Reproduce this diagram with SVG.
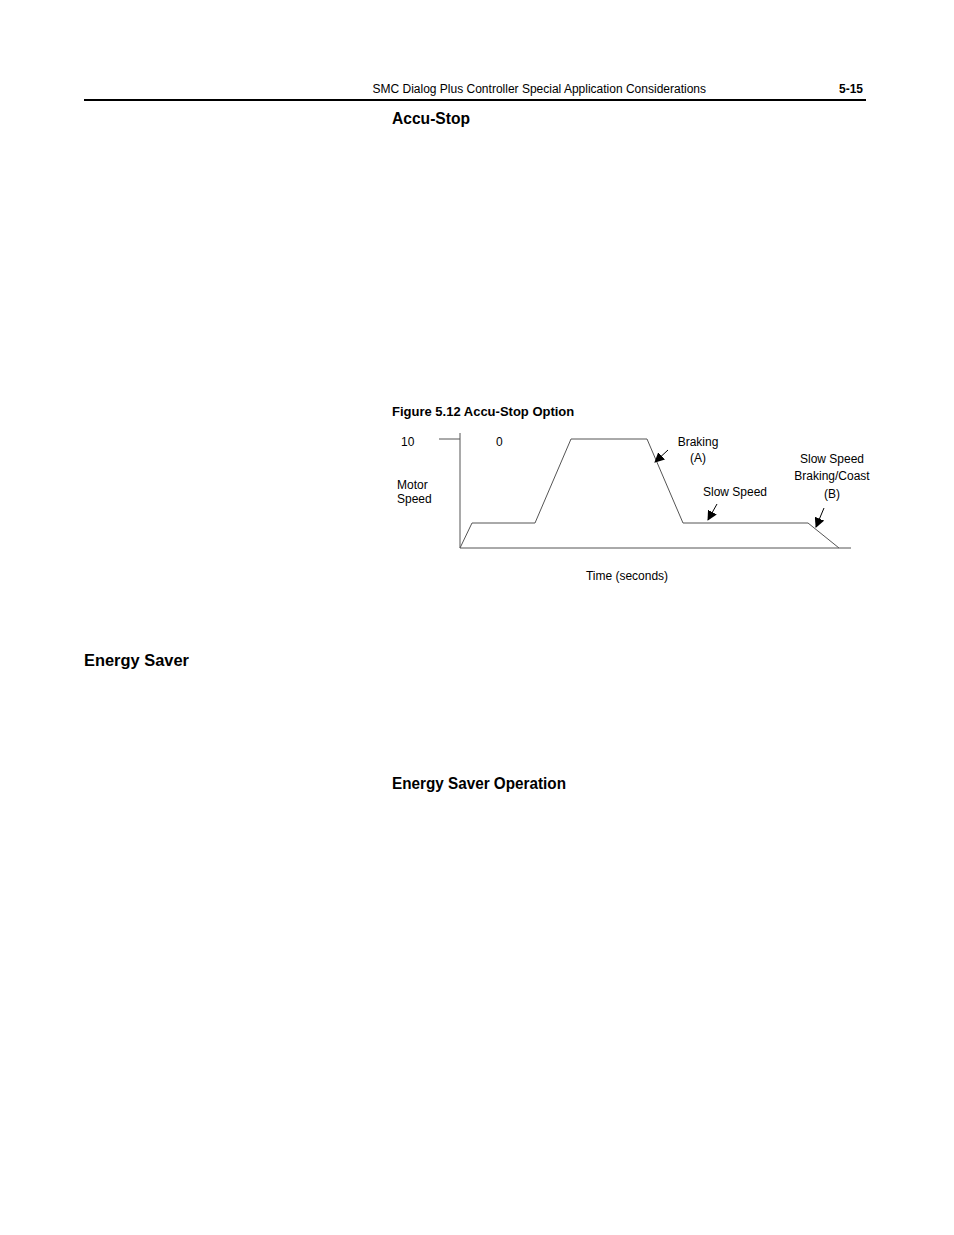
<svg xmlns="http://www.w3.org/2000/svg" width="954" height="1235" viewBox="0 0 954 1235">
<style>
text{font-family:"Liberation Sans Narrow","Liberation Sans",Arial,sans-serif;fill:#000}
.s{font-size:12px}
.h{font-size:17px;font-weight:bold}
.f{font-size:13px;font-weight:bold}
.l{fill:none;stroke:#000;stroke-width:1}
.g{fill:none;stroke:#555;stroke-width:1}
</style>
<defs><marker id="a" viewBox="0 0 10 10" refX="9" refY="5" markerWidth="10" markerHeight="10" markerUnits="userSpaceOnUse" orient="auto"><path d="M0,0L10,5L0,10z"/></marker></defs>
<rect width="954" height="1235" fill="#fff"/>
<text class="s" x="706" y="93" text-anchor="end">SMC Dialog Plus Controller Special Application Considerations</text>
<text class="s" x="863" y="93" text-anchor="end" font-weight="bold">5-15</text>
<line x1="84" y1="100" x2="866" y2="100" stroke="#000" stroke-width="2"/>
<text class="h" x="392" y="124" textLength="78" lengthAdjust="spacingAndGlyphs">Accu-Stop</text>
<text class="f" x="392" y="416">Figure 5.12 Accu-Stop Option</text>
<g id="chart">
<line class="g" x1="460" y1="433" x2="460" y2="548"/>
<line class="g" x1="460" y1="548" x2="851" y2="548"/>
<line class="g" x1="439" y1="439" x2="460" y2="439"/>
<polyline class="g" points="460,548 472,523 535,523 571,439 647,439 683,523 808,523 839,548"/>
</g>
<g id="connectors">
<line class="l" x1="668" y1="450" x2="655" y2="462" marker-end="url(#a)"/>
<line class="l" x1="717" y1="504" x2="708" y2="520" marker-end="url(#a)"/>
<line class="l" x1="824" y1="508" x2="816" y2="527" marker-end="url(#a)"/>
</g>
<g id="labels" class="s">
<text class="s" x="401" y="446">10</text>
<text class="s" x="496" y="446">0</text>
<text class="s" x="397" y="489">Motor</text>
<text class="s" x="397" y="503">Speed</text>
<text class="s" x="698" y="446" text-anchor="middle">Braking</text>
<text class="s" x="698" y="462" text-anchor="middle">(A)</text>
<text class="s" x="735" y="496" text-anchor="middle">Slow Speed</text>
<text class="s" x="832" y="463" text-anchor="middle">Slow Speed</text>
<text class="s" x="832" y="480" text-anchor="middle">Braking/Coast</text>
<text class="s" x="832" y="498" text-anchor="middle">(B)</text>
<text class="s" x="627" y="580" text-anchor="middle">Time (seconds)</text>
</g>
<text class="h" x="84" y="666" textLength="105" lengthAdjust="spacingAndGlyphs">Energy Saver</text>
<text class="h" x="392" y="789" textLength="174" lengthAdjust="spacingAndGlyphs">Energy Saver Operation</text>
</svg>
